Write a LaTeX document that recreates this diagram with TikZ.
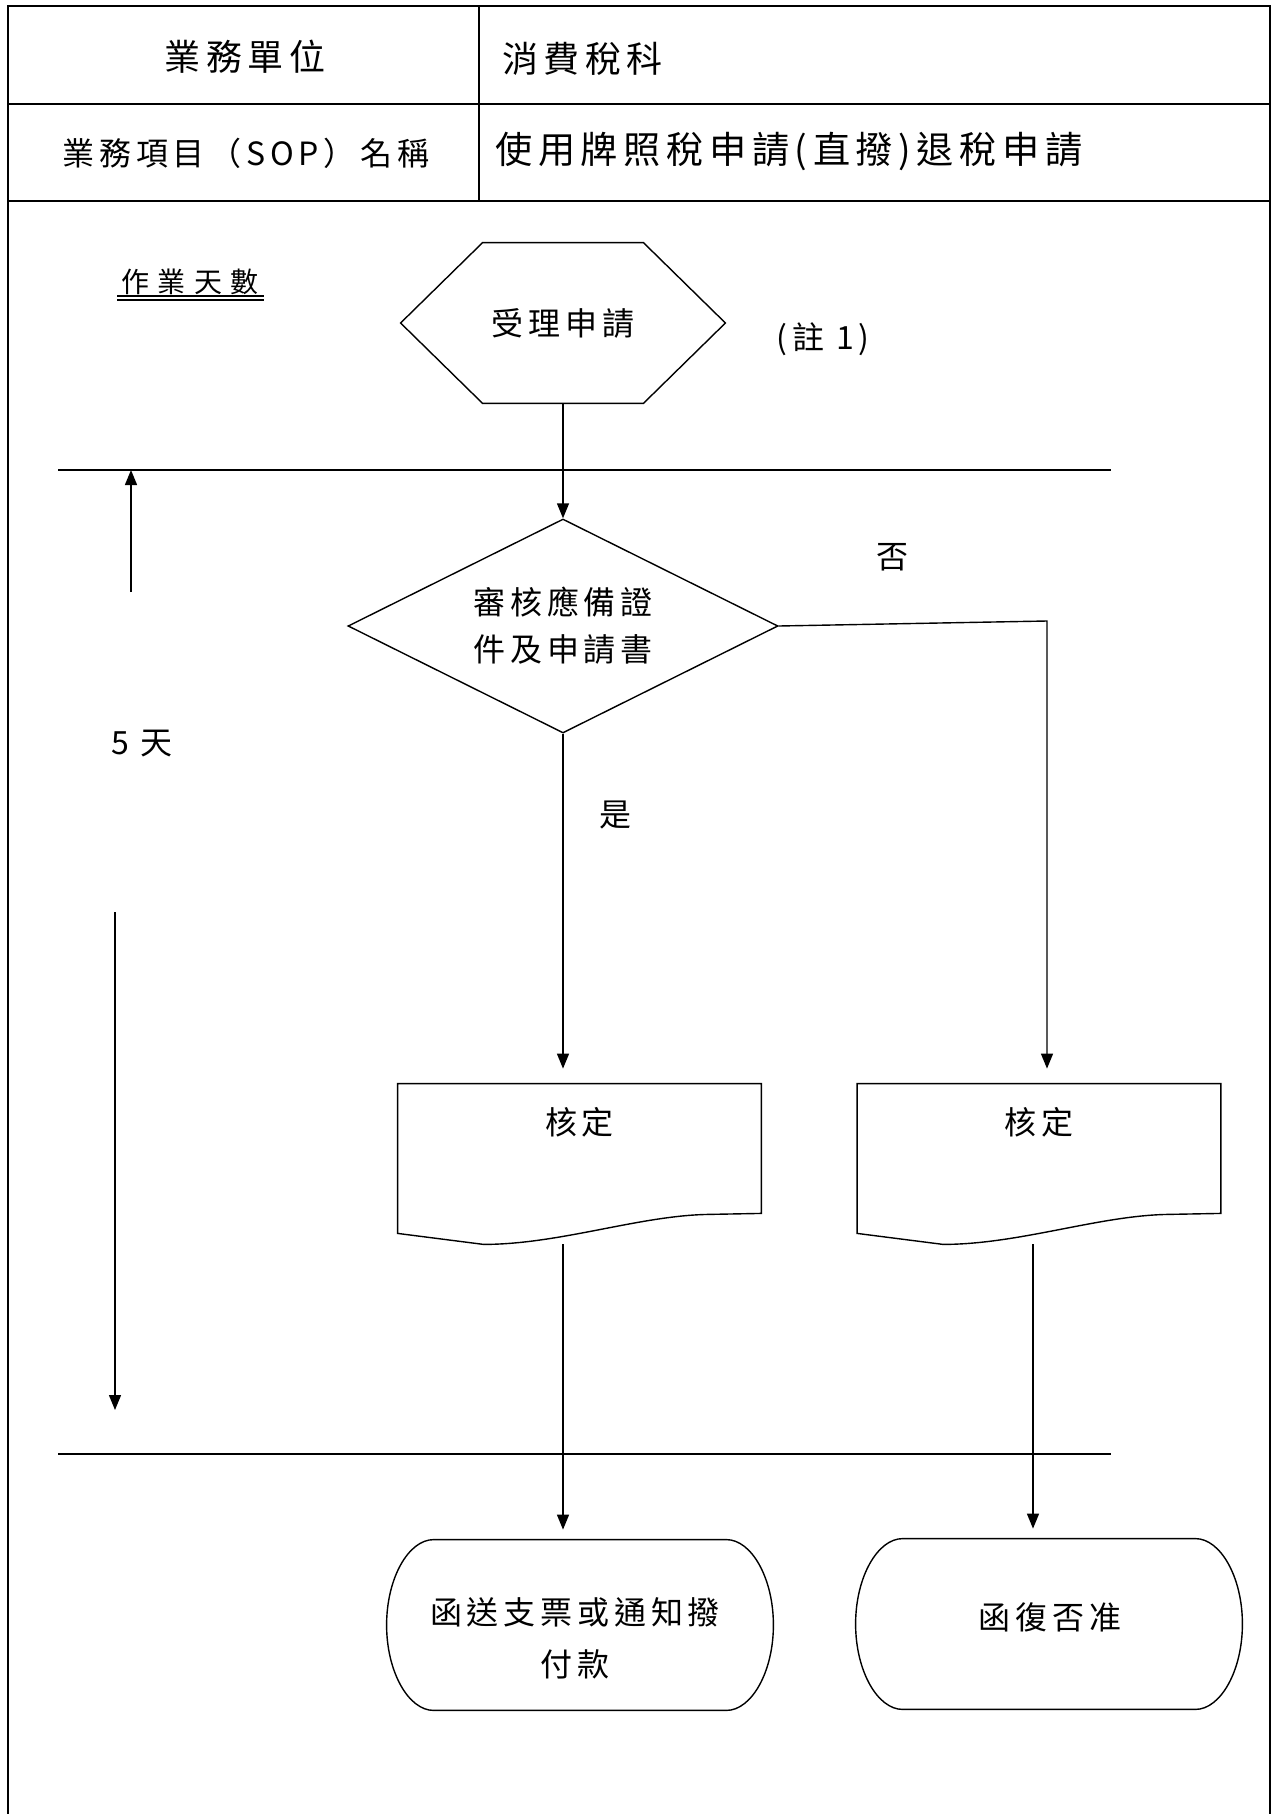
\documentclass[tikz,border=0pt]{standalone}
\usepackage{fontspec}
\usetikzlibrary{shapes.geometric,arrows.meta,calc}
\newfontfamily\cjk[LetterSpace=15]{Noto Sans CJK TC}
\newfontfamily\cjkwide[LetterSpace=30]{Noto Sans CJK TC}
\newcommand{\headfont}{\cjk\fontsize{18}{22}\selectfont}
\newcommand{\labelfont}{\cjk\fontsize{16}{20}\selectfont}
\newcommand{\flowfont}{\cjk\fontsize{16}{23.5}\selectfont}
\tikzset{
	frame/.style={line width=1pt},
	flow/.style={line width=0.7pt},
	txt/.style={inner sep=0pt, align=center, font=\flowfont},
	headtxt/.style={inner sep=0pt, font=\headfont},
	hexbox/.style={txt, minimum width=162pt, minimum height=80pt},
	decision/.style={txt, diamond, aspect=2, draw, flow, minimum width=215pt, minimum height=107pt},
	docbox/.style={inner sep=0pt, minimum width=181.5pt, minimum height=80pt},
	termbox/.style={inner sep=0pt, minimum width=193pt, minimum height=85pt},
}
\begin{document}
\begin{tikzpicture}[x=0.5pt, y=-0.5pt, >={Triangle[length=7.5pt,width=6pt]}]
	\useasboundingbox (0,0) rectangle (1276,1814);
	\draw[frame] (8,1830) -- (8,6) -- (1270,6) -- (1270,1830);
	\draw[frame] (8,104) -- (1270,104) (8,201) -- (1270,201);
	\draw[line width=0.8pt] (479,6) -- (479,201);
	\node[headtxt] (unithead) at (245,57) {業務單位};
	\node[headtxt, anchor=west] (unitname) at (502,59) {消費稅科};
	\node[headtxt, font=\labelfont] (itemhead) at (246,153) {業務項目（SOP）名稱};
	\node[headtxt, font=\cjk\fontsize{18.6}{22}\selectfont, anchor=west] (itemname) at (495,151) {使用牌照稅申請(直撥)退稅申請};

	\node[inner sep=0pt, font=\cjkwide\fontsize{14}{18}\selectfont] (days) at (190,282) {作業天數};
	\draw[line width=0.6pt] ($(days)+(-73,14)$) -- ($(days)+(74,14)$) ($(days)+(-73,18)$) -- ($(days)+(74,18)$);

	\node[hexbox] (recv) at (563,323) {受理申請};
	\draw[flow] (recv.west) -- ($(recv.north west)+(82,0)$) -- ($(recv.north east)+(-82,0)$) -- (recv.east)
		-- ($(recv.south east)+(-82,0)$) -- ($(recv.south west)+(82,0)$) -- cycle;
	\node[txt] (note) at (823,339) {(註 1)};

	\coordinate (ruleAl) at (58,470);
	\coordinate (ruleAr) at (1111,470);
	\coordinate (ruleBl) at (58,1454);
	\coordinate (ruleBr) at (1111,1454);
	\draw[flow] (ruleAl) -- (ruleAr) (ruleBl) -- (ruleBr);

	\node[decision] (check) at (563,626) {審核應備證\\件及申請書};
	\coordinate (nocorner) at (1047,621);
	\node[txt] (nolbl) at (892,557) {否};
	\node[txt] (yeslbl) at (615,815) {是};
	\node[txt] (span) at (142,744) {5 天};

	\node[docbox] (okdoc) at (579.5,1164) {};
	\node[docbox] (nodoc) at (1039,1164) {};
	\foreach \d in {okdoc,nodoc}
		\draw[flow] ($(\d.south west)+(0,-11)$) -- (\d.north west) -- (\d.north east) -- ($(\d.south east)+(0,-31)$)
			-- ($(\d.south west)+(311,-30)$) .. controls ($(\d.south west)+(242,-29)$) and ($(\d.south west)+(162,0)$) .. ($(\d.south west)+(86,0)$) -- cycle;
	\node[txt] (oktxt) at ($(okdoc.north)+(0,39)$) {核定};
	\node[txt] (notxt) at ($(nodoc.north)+(0,39)$) {核定};

	\node[termbox] (pay) at (580,1625) {};
	\node[termbox] (deny) at (1049,1624) {};
	\foreach \t in {pay,deny}
		\draw[flow] ($(\t.north west)+(47,0)$) -- ($(\t.north east)+(-47,0)$) .. controls +(25,0) and +(0,-47) .. (\t.east)
			.. controls +(0,47) and +(25,0) .. ($(\t.south east)+(-47,0)$) -- ($(\t.south west)+(47,0)$)
			.. controls +(-25,0) and +(0,47) .. (\t.west) .. controls +(0,-47) and +(-25,0) .. ($(\t.north west)+(47,0)$) -- cycle;
	\node[txt, font=\cjk\fontsize{16}{26}\selectfont] (paytxt) at (575,1638) {函送支票或通知撥\\付款};
	\node[txt] (denytxt) at (1050,1617) {函復否准};

	\draw[flow,->] (recv) -- (check);
	\draw[flow,->,shorten >=7.5pt] (check.south) -- (check.south |- okdoc.north);
	\draw[flow,->,shorten >=7.5pt] (check.east) -- (nocorner) -- (nocorner |- nodoc.north);
	\draw[flow,->,shorten >=5pt] (okdoc.south -| check.south) -- (pay.north -| check.south);
	\coordinate (nodrop) at ($(nodoc.south)+(-6,0)$);
	\draw[flow,->,shorten >=5pt] (nodrop) -- (nodrop |- deny.north);

	\coordinate (upfoot) at (131,592);
	\coordinate (downtop) at (115,912);
	\coordinate (downend) at (115,1410);
	\draw[flow,->] (upfoot) -- (upfoot |- ruleAl);
	\draw[flow,->] (downtop) -- (downend);
\end{tikzpicture}
\end{document}
